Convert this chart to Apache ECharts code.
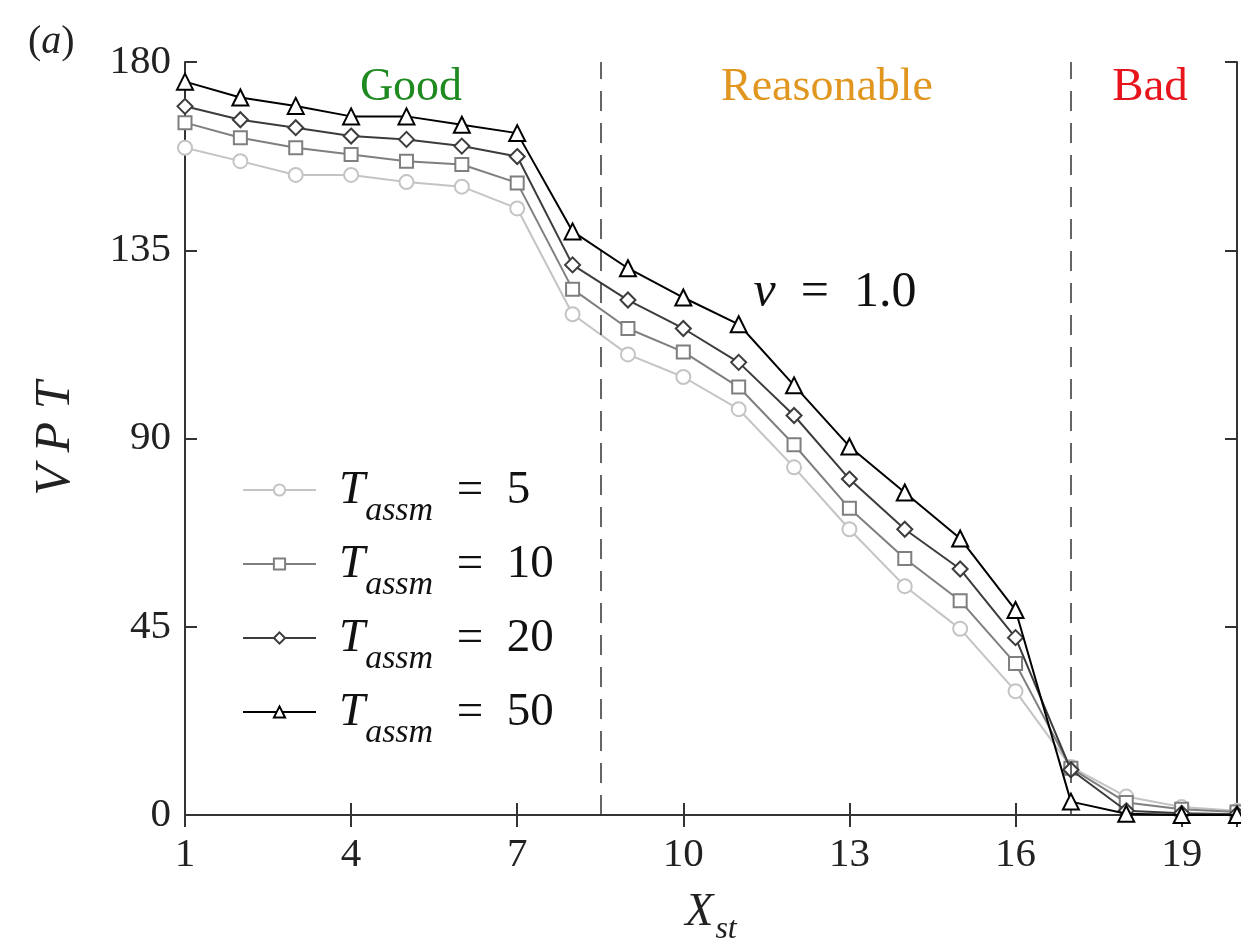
<!DOCTYPE html>
<html>
<head>
<meta charset="utf-8">
<script src="https://cdn.jsdelivr.net/npm/echarts@6/dist/echarts.min.js"></script>
<style>html,body{margin:0;padding:0;background:#fff}#c{width:1241px;height:944px}</style>
</head>
<body>
<div id="c"></div>
<script>
const xValues = [1,2,3,4,5,6,7,8,9,10,11,12,13,14,15,16,17,18,19,20];
const seriesNames = ['5','10','20','50'];
const vpt5  = [159.5,156.3,153.0,153.0,151.3,150.2,145.0,119.7,110.1,104.7,97.0,83.1,68.3,54.7,44.5,29.6,11.5,4.4,1.9,1.0];
const vpt10 = [165.5,161.9,159.5,157.9,156.3,155.5,151.1,125.7,116.3,110.7,102.3,88.5,73.3,61.3,51.2,36.2,11.2,3.0,1.4,0.7];
const vpt20 = [169.4,166.2,164.3,162.3,161.5,159.9,157.4,131.5,123.1,116.3,108.2,95.5,80.3,68.3,58.8,42.4,10.8,1.0,0.4,0.2];
const vpt50 = [175.3,171.5,169.5,167.0,167.0,165.0,163.0,139.5,130.7,123.7,117.3,102.7,88.1,77.1,66.1,49.0,3.2,0.3,0.0,0.0];
const xTickLabels = ['1','4','7','10','13','16','19'];
const yTickLabels = ['0','45','90','135','180'];
const regionBounds = [8.5, 17];
const regionLabels = ['Good','Reasonable','Bad'];

const allData = [vpt5, vpt10, vpt20, vpt50];
const colors = ['#c4c4c4','#7f7f7f','#3c3c3c','#000000'];
const symbols = ['circle','rect','diamond','triangle'];
const symSizes = [14,13,15,16];
const serif = 'Liberation Serif';

const series = allData.map((d, i) => ({
  name: seriesNames[i],
  type: 'line',
  data: xValues.map((x, j) => [x, d[j]]),
  symbol: symbols[i],
  symbolSize: symSizes[i],
  z: 2 + i,
  lineStyle: {color: colors[i], width: 2},
  itemStyle: {color: '#fff', borderColor: colors[i], borderWidth: 2},
  emphasis: {disabled: true},
  animation: false
}));
series.push({
  type: 'line', data: [], silent: true,
  markLine: {
    silent: true, symbol: ['none','none'],
    lineStyle: {color: '#333', width: 1.5, type: [20, 12]},
    label: {show: false},
    data: regionBounds.map(v => ({xAxis: v}))
  }
});

const chart = echarts.init(document.getElementById('c'), null, {renderer: 'canvas'});
const axisCommon = {
  axisLine: {show: true, lineStyle: {color: '#333', width: 2}},
  axisTick: {show: true, inside: true, length: 12, lineStyle: {color: '#333', width: 2}},
  splitLine: {show: false}
};
chart.setOption({
  animation: false,
  backgroundColor: '#fff',
  grid: {left: 185, right: 4, top: 62, bottom: 129, containLabel: false, outerBoundsMode: 'none'},
  xAxis: [
    Object.assign({}, axisCommon, {
      type: 'value', min: 1, max: 20, interval: 3, position: 'bottom',
      axisLabel: {fontFamily: serif, fontSize: 41, color: '#222', margin: 20,
        formatter: v => xTickLabels.includes(String(v)) ? String(v) : ''},
      name: '{a|X}{b|st}', nameLocation: 'middle', nameGap: 75,
      nameTextStyle: {rich: {
        a: {fontFamily: serif, fontStyle: 'italic', fontSize: 46, color: '#222', lineHeight: 46, verticalAlign: 'bottom'},
        b: {fontFamily: serif, fontStyle: 'italic', fontSize: 32, color: '#222', lineHeight: 46, verticalAlign: 'bottom', padding: [0,0,-10,2]}
      }}
    }),
    Object.assign({}, axisCommon, {
      type: 'value', min: 1, max: 20, interval: 3, position: 'top',
      axisLabel: {show: false}
    })
  ],
  yAxis: [
    Object.assign({}, axisCommon, {
      type: 'value', min: 0, max: 180, interval: 45, position: 'left',
      axisLabel: {fontFamily: serif, fontSize: 41, color: '#222', margin: 14,
        formatter: v => yTickLabels.includes(String(v)) ? String(v) : ''},
      name: 'V P T', nameLocation: 'middle', nameGap: 104, nameRotate: 90,
      nameTextStyle: {fontFamily: serif, fontStyle: 'italic', fontSize: 50, color: '#222'}
    }),
    Object.assign({}, axisCommon, {
      type: 'value', min: 0, max: 180, interval: 45, position: 'right',
      axisLabel: {show: false}
    })
  ],
  legend: {
    show: true, orient: 'vertical', left: 237, top: 462,
    itemWidth: 73, itemHeight: 14, itemGap: 13,
    data: seriesNames,
    formatter: n => '{t|T}{s|assm}{e|  =  ' + n + '}',
    textStyle: {rich: {
      t: {fontFamily: serif, fontStyle: 'italic', fontSize: 47, color: '#111', lineHeight: 48, verticalAlign: 'bottom', padding: [0,0,0,18]},
      s: {fontFamily: serif, fontStyle: 'italic', fontSize: 34, color: '#111', lineHeight: 48, verticalAlign: 'bottom', padding: [0,0,-14,0]},
      e: {fontFamily: serif, fontSize: 47, color: '#111', lineHeight: 48, verticalAlign: 'bottom'}
    }},
    selectedMode: false
  },
  graphic: [
    {type: 'text', left: 28, top: 22, style: {rich: {p: {font: '40px "Liberation Serif"', fill: '#222'}, a: {font: 'italic 40px "Liberation Serif"', fill: '#222'}}, text: '{p|(}{a|a}{p|)}'}},
    {type: 'text', x: 411, y: 88, style: {text: regionLabels[0], font: '46px "Liberation Serif"', fill: '#1f8a1f', align: 'center', verticalAlign: 'middle'}},
    {type: 'text', x: 827, y: 88, style: {text: regionLabels[1], font: '46px "Liberation Serif"', fill: '#e0961f', align: 'center', verticalAlign: 'middle'}},
    {type: 'text', x: 1150, y: 88, style: {text: regionLabels[2], font: '47px "Liberation Serif"', fill: '#e8141c', align: 'center', verticalAlign: 'middle'}},
    {type: 'text', x: 835, y: 293, style: {text: '{n|\u03bd}{t|  =  1.0}', align: 'center', verticalAlign: 'middle',
      rich: {n: {font: 'italic 50px "Liberation Serif"', fill: '#111'}, t: {font: '50px "Liberation Serif"', fill: '#111'}}}}
  ],
  series: series
});
</script>
</body>
</html>
